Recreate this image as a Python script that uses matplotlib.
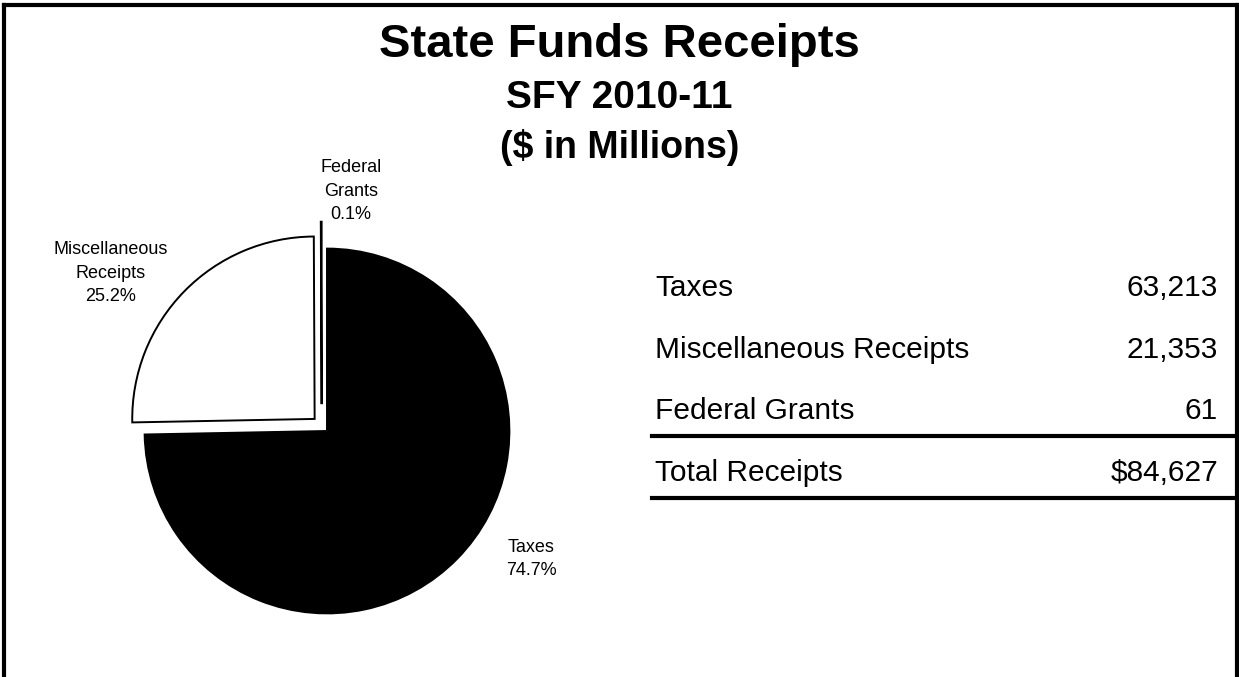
import matplotlib
matplotlib.use("Agg")
import matplotlib.pyplot as plt
from matplotlib.lines import Line2D

# receipts by source, SFY 2010-11 ($ millions)
categorias = ["Taxes", "Miscellaneous Receipts", "Federal Grants"]
etiquetas_pie = ["Taxes", "Miscellaneous\nReceipts", "Federal\nGrants"]
montos = [63213, 21353, 61]
total = 84627
porcentajes = [74.7, 25.2, 0.1]
montos_txt = ["63,213", "21,353", "61"]
total_txt = "$84,627"

W, H = 1239, 677
fig = plt.figure(figsize=(W / 100, H / 100), dpi=100)

# marco negro (izquierda, arriba, derecha)
for xs, ys in [([4, 4], [0, H - 5]), ([4, W - 2], [H - 5, H - 5]), ([W - 2, W - 2], [H - 5, 0])]:
    fig.add_artist(Line2D([x / W for x in xs], [y / H for y in ys], color="black", lw=3,
                          transform=fig.transFigure))

fuente = ["Liberation Sans", "Arial", "DejaVu Sans"]
fig.text(0.5, 1 - 45 / H, "State Funds Receipts", ha="center", va="center",
         fontsize=34, fontweight="bold", family=fuente)
fig.text(0.5, 1 - 98 / H, "SFY 2010-11", ha="center", va="center",
         fontsize=28, fontweight="bold", family=fuente)
fig.text(0.5, 1 - 148 / H, "($ in Millions)", ha="center", va="center",
         fontsize=27, fontweight="bold", family=fuente)

# pastel: centro en (327, 431) px, radio 190 px
escala = 200.0
cx, cy = 327, H - 431
lado = 2.4 * escala
ax = fig.add_axes([(cx - lado / 2) / W, (cy - lado / 2) / H, lado / W, lado / H])
ax.set_xlim(-1.2, 1.2)
ax.set_ylim(-1.2, 1.2)
ax.set_aspect("equal")
ax.axis("off")

wedges, _ = ax.pie(montos, radius=0.95, startangle=90, counterclock=False,
                   explode=[0, 0.09, 0.14], colors=["black", "white", "white"],
                   wedgeprops=dict(edgecolor="black", linewidth=1.4))
wedges[2].set_center((-0.028, 0.14))

# posiciones de etiquetas en px de la figura
pos_etiquetas = [(531, 559), (111, 273), (351, 191)]
for et, pc, (x, y) in zip(etiquetas_pie, porcentajes, pos_etiquetas):
    fig.text(x / W, 1 - y / H, f"{et}\n{pc:.1f}%", ha="center", va="center", fontsize=13,
             family=fuente, linespacing=1.5)

# tabla de montos
fuente_tabla = ["Liberation Sans", "DejaVu Sans"]
tam = 21.5
filas_y = [296, 358, 419]
for nombre, txt, fy in zip(categorias, montos_txt, filas_y):
    fig.text(655 / W, 1 - fy / H, nombre, ha="left", va="baseline", fontsize=tam,
             family=fuente_tabla)
    fig.text(1218 / W, 1 - fy / H, txt, ha="right", va="baseline", fontsize=tam,
             family=fuente_tabla)
fig.text(655 / W, 1 - 481 / H, "Total Receipts", ha="left", va="baseline", fontsize=tam,
         family=fuente_tabla)
fig.text(1218 / W, 1 - 481 / H, total_txt, ha="right", va="baseline", fontsize=tam,
         family=fuente_tabla)
for ly in [436, 498]:
    fig.add_artist(Line2D([652 / W, 1237 / W], [1 - ly / H, 1 - ly / H], color="black",
                          lw=3, transform=fig.transFigure))

fig.savefig("out.png", dpi=100, facecolor="white")
